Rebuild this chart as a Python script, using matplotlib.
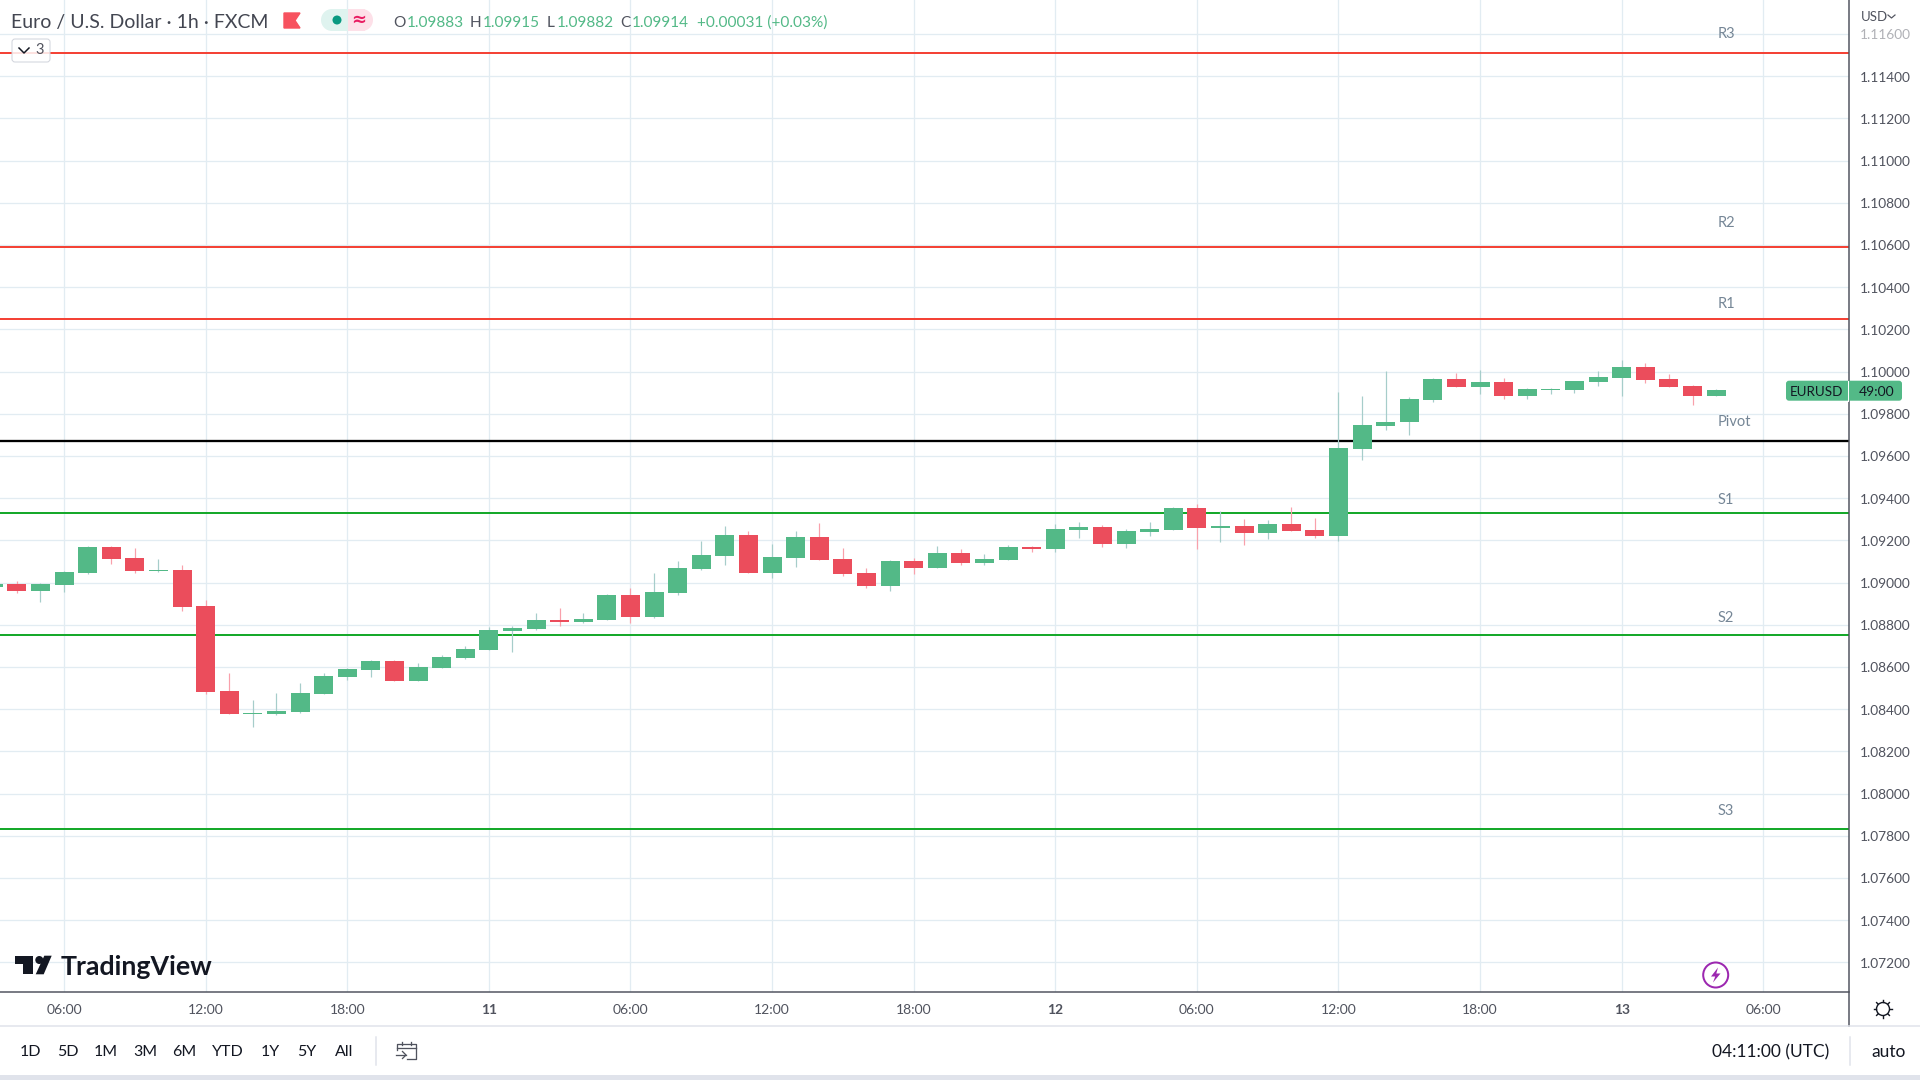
import matplotlib
matplotlib.use('Agg')
from matplotlib import pyplot as plt
from matplotlib.patches import Circle, FancyBboxPatch, Polygon, Rectangle
from matplotlib.transforms import ScaledTranslation

plt.rcParams['font.family'] = ['Lato', 'DejaVu Sans']

# hourly bars, hour 0 = midnight on the 10th
firstHour = 3
opens = [1.08978, 1.08992, 1.08959, 1.08987, 1.09044, 1.09167, 1.09115, 1.09054, 1.09058, 1.08888,
         1.08485, 1.08376, 1.08376, 1.08385, 1.08471, 1.08551, 1.08584, 1.08627, 1.08532, 1.08594,
         1.08641, 1.08679, 1.08770, 1.08780, 1.08822, 1.08813, 1.08822, 1.08941, 1.08836, 1.08950,
         1.09064, 1.09126, 1.09225, 1.09045, 1.09116, 1.09216, 1.09111, 1.09045, 1.08983, 1.09102,
         1.09069, 1.09140, 1.09092, 1.09106, 1.09168, 1.09159, 1.09249, 1.09263, 1.09183, 1.09240,
         1.09249, 1.09354, 1.09259, 1.09268, 1.09235, 1.09278, 1.09249, 1.09221, 1.09635, 1.09744,
         1.09759, 1.09863, 1.09963, 1.09925, 1.09949, 1.09883, 1.09911, 1.09911, 1.09949, 1.09968,
         1.10021, 1.09963, 1.09930, 1.09883]
highs = [1.08995, 1.09006, 1.08997, 1.09054, 1.09172, 1.09172, 1.09163, 1.09111, 1.09082, 1.08916,
         1.08570, 1.08442, 1.08475, 1.08523, 1.08570, 1.08594, 1.08632, 1.08632, 1.08618, 1.08656,
         1.08698, 1.08788, 1.08794, 1.08855, 1.08879, 1.08855, 1.08945, 1.08974, 1.09045, 1.09102,
         1.09197, 1.09268, 1.09244, 1.09182, 1.09244, 1.09282, 1.09164, 1.09069, 1.09107, 1.09116,
         1.09173, 1.09159, 1.09135, 1.09178, 1.09173, 1.09278, 1.09287, 1.09273, 1.09254, 1.09287,
         1.09359, 1.09373, 1.09340, 1.09302, 1.09297, 1.09359, 1.09306, 1.09901, 1.09882, 1.10001,
         1.09878, 1.09968, 1.09992, 1.10006, 1.09968, 1.09921, 1.09921, 1.09954, 1.10002, 1.10054,
         1.10040, 1.09987, 1.09935, 1.09915]
lows = [1.08975, 1.08949, 1.08907, 1.08954, 1.09040, 1.09087, 1.09044, 1.09049, 1.08864, 1.08471,
        1.08376, 1.08314, 1.08371, 1.08381, 1.08471, 1.08537, 1.08551, 1.08532, 1.08532, 1.08594,
        1.08637, 1.08679, 1.08671, 1.08775, 1.08794, 1.08808, 1.08822, 1.08808, 1.08832, 1.08941,
        1.09059, 1.09083, 1.09045, 1.09021, 1.09073, 1.09107, 1.09031, 1.08974, 1.08960, 1.09040,
        1.09069, 1.09083, 1.09083, 1.09106, 1.09144, 1.09144, 1.09211, 1.09168, 1.09163, 1.09221,
        1.09249, 1.09159, 1.09192, 1.09178, 1.09206, 1.09244, 1.09211, 1.09197, 1.09582, 1.09725,
        1.09701, 1.09854, 1.09925, 1.09892, 1.09868, 1.09868, 1.09892, 1.09897, 1.09930, 1.09883,
        1.09944, 1.09925, 1.09840, 1.09882]
closes = [1.08992, 1.08959, 1.08992, 1.09049, 1.09167, 1.09111, 1.09054, 1.09058, 1.08883, 1.08480,
          1.08376, 1.08381, 1.08390, 1.08475, 1.08556, 1.08589, 1.08627, 1.08532, 1.08599, 1.08646,
          1.08684, 1.08774, 1.08784, 1.08822, 1.08813, 1.08827, 1.08941, 1.08836, 1.08955, 1.09069,
          1.09130, 1.09225, 1.09045, 1.09121, 1.09216, 1.09107, 1.09040, 1.08983, 1.09102, 1.09069,
          1.09140, 1.09092, 1.09111, 1.09168, 1.09159, 1.09254, 1.09263, 1.09183, 1.09244, 1.09254,
          1.09354, 1.09259, 1.09268, 1.09235, 1.09278, 1.09244, 1.09221, 1.09640, 1.09749, 1.09763,
          1.09868, 1.09963, 1.09925, 1.09949, 1.09883, 1.09916, 1.09916, 1.09954, 1.09973, 1.10021,
          1.09959, 1.09925, 1.09883, 1.09914]

levelNames = ['R3', 'R2', 'R1', 'Pivot', 'S1', 'S2', 'S3']
levelPrices = [1.11509, 1.10591, 1.10249, 1.09672, 1.09329, 1.08753, 1.07832]

priceTicks = [1.072, 1.074, 1.076, 1.078, 1.080, 1.082, 1.084, 1.086, 1.088, 1.090, 1.092, 1.094,
              1.096, 1.098, 1.100, 1.102, 1.104, 1.106, 1.108, 1.110, 1.112, 1.114, 1.116]
timeTicks = [6, 12, 18, 24, 30, 36, 42, 48, 54, 60, 66, 72, 78]
timeLabels = ['06:00', '12:00', '18:00', '11', '06:00', '12:00', '18:00', '12', '06:00', '12:00',
              '18:00', '13', '06:00']
rangeButtons = ['1D', '5D', '1M', '3M', '6M', 'YTD', '1Y', '5Y', 'All']

GREEN = '#53b987'
RED = '#eb4d5c'
GRID = '#e2ecf2'
AXIS = '#50535e'
TEXT = '#131722'
PX = 0.72  # one pixel in points at dpi 100

fig = plt.figure(figsize=(19.2, 10.8), dpi=100, facecolor='white')
ax = fig.add_axes([0, 87.7 / 1080, 1848.5 / 1920, 992.3 / 1080])

hours = [firstHour + i for i in range(len(opens))]
for level, name in zip(levelPrices, levelNames):
    if name == 'Pivot':
        color = 'black'
    elif name[0] == 'R':
        color = '#f44336'
    else:
        color = '#16a92b'
    ax.axhline(level, color=color, lw=(2.3 if name == 'Pivot' else 2) * PX, zorder=2)

bodyColors = [GREEN if c >= o else RED for o, c in zip(opens, closes)]
wickColors = ['#a6cdca' if c >= o else '#f9a0ab' for o, c in zip(opens, closes)]
ax.vlines(hours, lows, highs, colors=wickColors, lw=1.2 * PX, zorder=3)
ax.bar(hours, [abs(c - o) for o, c in zip(opens, closes)], bottom=[min(o, c) for o, c in zip(opens, closes)],
       width=0.805, color=bodyColors, linewidth=0, zorder=4)

ax.set_xlim(3.285, 81.61)
ax.set_ylim(1.07058, 1.11761)
ax.set_axisbelow(True)
ax.grid(True, color=GRID, lw=1.3 * PX)
ax.spines['top'].set_visible(False)
ax.spines['left'].set_visible(False)
ax.spines['right'].set_color(AXIS)
ax.spines['bottom'].set_color(AXIS)
ax.spines['right'].set_linewidth(1.5 * PX)
ax.spines['bottom'].set_linewidth(1.5 * PX)

ax.yaxis.tick_right()
ax.set_yticks(priceTicks)
ax.set_yticklabels(['%.5f' % p for p in priceTicks])
ax.get_yticklabels()[-1].set_alpha(0.45)
ax.tick_params(axis='y', length=0, pad=8.5, labelsize=9.9, labelcolor=AXIS)
nudge = ScaledTranslation(0, -0.4 / 100, fig.dpi_scale_trans)
for tickLabel in ax.get_yticklabels():
    tickLabel.set_transform(tickLabel.get_transform() + nudge)
ax.set_xticks(timeTicks)
ax.set_xticklabels(timeLabels)
ax.tick_params(axis='x', length=0, pad=8.2, labelsize=10, labelcolor=AXIS)
for tickLabel in ax.get_xticklabels():
    if ':' not in tickLabel.get_text():
        tickLabel.set_fontweight('bold')

# everything around the chart is drawn in screen pixels on a second axes
over = fig.add_axes([0, 0, 1, 1], facecolor='none')
over.set_xlim(0, 1920)
over.set_ylim(1080, 0)
over.axis('off')

# pivot names
labelY = [34, 223, 304, 422, 500, 618, 811]
for name, y in zip(levelNames, labelY):
    over.text(1718, y, name, color='#758696', fontsize=10.5, va='center', ha='left')

# header
over.text(11, 22.5, 'Euro / U.S. Dollar · 1h · FXCM', color='#434651', fontsize=14, va='center')
over.add_patch(Polygon([(284, 13), (300, 13), (295, 20.5), (300, 28), (284, 28)], color='#f7525f'))
over.add_patch(FancyBboxPatch((331, 9), 34, 22, boxstyle='round,pad=0,rounding_size=0', color='#dff3ef', lw=0))
over.add_patch(Circle((332, 20), 11, color='#dff3ef', lw=0))
over.add_patch(Rectangle((348, 9), 17, 22, color='#fde0e8', lw=0))
over.add_patch(Circle((362, 20), 11, color='#fde0e8', lw=0))
over.add_patch(Circle((337, 20), 4.5, color='#089981', lw=0))
over.text(359, 20, '≈', color='#e91e63', fontsize=13, ha='center', va='center', fontweight='bold',
          family='DejaVu Sans')

ohlc = [(393, 'O', AXIS), (407, '1.09883', GREEN), (470, 'H', AXIS), (483, '1.09915', GREEN),
        (547, 'L', AXIS), (557, '1.09882', GREEN), (620, 'C', AXIS), (632, '1.09914', GREEN),
        (697, '+0.00031 (+0.03%)', GREEN)]
for x, s, color in ohlc:
    over.text(x, 23, s, color=color, fontsize=11.1, va='center')

# collapse button for the three hidden indicators
over.add_patch(FancyBboxPatch((12, 39), 38, 23, boxstyle='round,pad=0,rounding_size=3',
                              fc=(1, 1, 1, 0.85), ec='#d1d4dc', lw=1 * PX))
over.plot([19, 24, 29], [48, 53, 48], color=TEXT, lw=1.5 * PX)
over.text(40, 50.5, '3', color=AXIS, fontsize=10.5, ha='center', va='center')

# top right corner
over.text(1861, 17, 'USD', color=AXIS, fontsize=9.5, va='center')
over.plot([1888, 1891.5, 1895], [15, 18, 15], color=AXIS, lw=1.2 * PX)

# last price tag
tagY = 1080 - ax.transData.transform((0, closes[-1]))[1]
over.add_patch(FancyBboxPatch((1787, tagY - 8), 114, 18, boxstyle='round,pad=1,rounding_size=3',
                              color=GREEN, lw=0))
over.plot([1848, 1848], [tagY - 9, tagY + 11], color='white', lw=1 * PX)
over.text(1816, tagY + 2, 'EURUSD', color=TEXT, fontsize=9.6, ha='center', va='center')
over.text(1877, tagY + 2, '49:00', color=TEXT, fontsize=10, ha='center', va='center')

# logo
over.add_patch(Polygon([(15, 955.7), (32.7, 955.7), (32.7, 974.3), (22.7, 974.3), (22.7, 964), (15, 964)],
                       color=TEXT, lw=0))
over.add_patch(Circle((39.3, 960), 4, color=TEXT, lw=0))
over.add_patch(Polygon([(44.3, 955.7), (51.7, 955.7), (43.7, 974.3), (35.7, 974.3)], color=TEXT, lw=0))
over.text(61, 967, 'TradingView', color=TEXT, fontsize=19.3, va='center', fontweight='bold')

# lightning button
over.add_patch(Circle((1715.7, 975), 12.5, fc='white', ec='#9c27b0', lw=2 * PX))
over.add_patch(Polygon([(1718, 967.5), (1711, 976.5), (1715.2, 976.5), (1713, 982.5), (1720.5, 973.5),
                        (1716.3, 973.5)], color='#9c27b0', lw=0))

# bottom bars
over.plot([1848.5, 1848.5], [992, 1026], color=AXIS, lw=1.5 * PX)
over.plot([0, 1920], [1026, 1026], color='#e0e3eb', lw=1.5 * PX)
over.add_patch(Rectangle((0, 1075), 1920, 5, color='#e0e3eb', lw=0))
over.plot([375.7, 375.7], [1037, 1065], color='#e0e3eb', lw=1.5 * PX)
over.plot([1850, 1850], [1037, 1065], color='#e0e3eb', lw=1.5 * PX)

buttonX = [30, 67.5, 106, 145, 184, 228, 270, 306.5, 344]
for x, s in zip(buttonX, rangeButtons):
    over.text(x, 1052, s, color=TEXT, fontsize=11.5, ha='center', va='center')
over.text(1771, 1052, '04:11:00 (UTC)', color=TEXT, fontsize=12.5, ha='center', va='center')
over.text(1889, 1052, 'auto', color=TEXT, fontsize=12.5, ha='center', va='center')

# calendar icon
over.plot([397, 397, 416, 416, 407], [1050, 1043.5, 1043.5, 1059, 1059], color=AXIS, lw=1.3 * PX)
over.plot([397, 416], [1048, 1048], color=AXIS, lw=1.3 * PX)
over.plot([402, 402], [1041.5, 1045], color=AXIS, lw=1.3 * PX)
over.plot([411, 411], [1041.5, 1045], color=AXIS, lw=1.3 * PX)
over.plot([396, 406], [1055, 1055], color=AXIS, lw=1.3 * PX)
over.plot([402.5, 406, 402.5], [1051.5, 1055, 1058.5], color=AXIS, lw=1.3 * PX)

# gear icon
over.add_patch(Circle((1883, 1009), 6.5, fc='white', ec=TEXT, lw=1.4 * PX))
for dx, dy in [(0, -9), (0, 9), (-9, 0), (9, 0), (-6.4, -6.4), (6.4, 6.4), (-6.4, 6.4), (6.4, -6.4)]:
    over.plot([1883 + dx * 0.75, 1883 + dx], [1009 + dy * 0.75, 1009 + dy], color=TEXT, lw=1.4 * PX)

fig.savefig('out.png', dpi=100)
